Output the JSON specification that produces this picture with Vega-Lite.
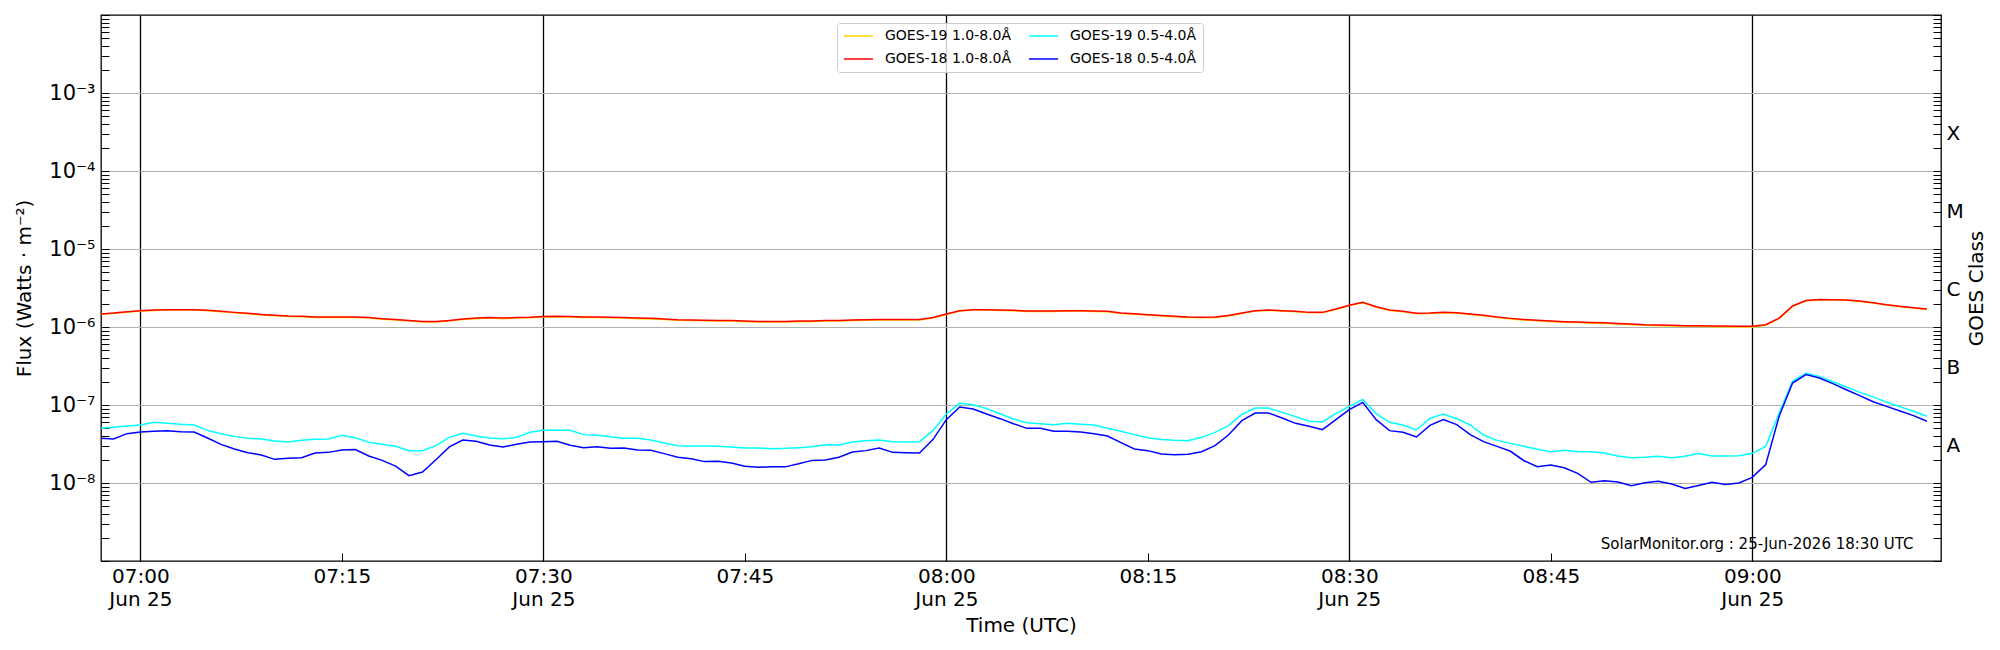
{
  "$schema": "https://vega.github.io/schema/vega-lite/v6.json",
  "width": 1840,
  "height": 546,
  "autosize": {"type": "none"},
  "padding": {"left": 101, "top": 15, "right": 59, "bottom": 89},
  "config": {
    "font": "DejaVu Sans",
    "view": {"stroke": "black", "strokeWidth": 1.3},
    "axis": {
      "labelFont": "DejaVu Sans", "titleFont": "DejaVu Sans",
      "labelColor": "black", "titleColor": "black", "titleFontWeight": "normal",
      "tickColor": "black", "tickWidth": 1, "ticks": true, "domain": false,
      "labelOverlap": false, "labelFlush": false, "labelBound": false
    }
  },
  "datasets": {
    "g19l": [
      {"t":"2026-06-25 06:57","f":1.45e-6},{"t":"2026-06-25 06:58","f":1.49e-6},{"t":"2026-06-25 06:59","f":1.55e-6},
      {"t":"2026-06-25 07:00","f":1.60e-6},{"t":"2026-06-25 07:01","f":1.63e-6},{"t":"2026-06-25 07:02","f":1.65e-6},{"t":"2026-06-25 07:03","f":1.65e-6},{"t":"2026-06-25 07:04","f":1.65e-6},
      {"t":"2026-06-25 07:05","f":1.62e-6},{"t":"2026-06-25 07:06","f":1.57e-6},{"t":"2026-06-25 07:07","f":1.52e-6},{"t":"2026-06-25 07:08","f":1.48e-6},{"t":"2026-06-25 07:09","f":1.43e-6},
      {"t":"2026-06-25 07:10","f":1.39e-6},{"t":"2026-06-25 07:11","f":1.36e-6},{"t":"2026-06-25 07:12","f":1.35e-6},{"t":"2026-06-25 07:13","f":1.32e-6},{"t":"2026-06-25 07:14","f":1.32e-6},
      {"t":"2026-06-25 07:15","f":1.32e-6},{"t":"2026-06-25 07:16","f":1.32e-6},{"t":"2026-06-25 07:17","f":1.30e-6},{"t":"2026-06-25 07:18","f":1.26e-6},{"t":"2026-06-25 07:19","f":1.23e-6},
      {"t":"2026-06-25 07:20","f":1.19e-6},{"t":"2026-06-25 07:21","f":1.16e-6},{"t":"2026-06-25 07:22","f":1.16e-6},{"t":"2026-06-25 07:23","f":1.19e-6},{"t":"2026-06-25 07:24","f":1.25e-6},
      {"t":"2026-06-25 07:25","f":1.28e-6},{"t":"2026-06-25 07:26","f":1.30e-6},{"t":"2026-06-25 07:27","f":1.28e-6},{"t":"2026-06-25 07:28","f":1.30e-6},{"t":"2026-06-25 07:29","f":1.31e-6},
      {"t":"2026-06-25 07:30","f":1.34e-6},{"t":"2026-06-25 07:31","f":1.35e-6},{"t":"2026-06-25 07:32","f":1.34e-6},{"t":"2026-06-25 07:33","f":1.32e-6},{"t":"2026-06-25 07:34","f":1.32e-6},
      {"t":"2026-06-25 07:35","f":1.31e-6},{"t":"2026-06-25 07:36","f":1.30e-6},{"t":"2026-06-25 07:37","f":1.28e-6},{"t":"2026-06-25 07:38","f":1.27e-6},{"t":"2026-06-25 07:39","f":1.25e-6},
      {"t":"2026-06-25 07:40","f":1.22e-6},{"t":"2026-06-25 07:41","f":1.21e-6},{"t":"2026-06-25 07:42","f":1.20e-6},{"t":"2026-06-25 07:43","f":1.19e-6},{"t":"2026-06-25 07:44","f":1.19e-6},
      {"t":"2026-06-25 07:45","f":1.17e-6},{"t":"2026-06-25 07:46","f":1.16e-6},{"t":"2026-06-25 07:47","f":1.16e-6},{"t":"2026-06-25 07:48","f":1.16e-6},{"t":"2026-06-25 07:49","f":1.17e-6},
      {"t":"2026-06-25 07:50","f":1.17e-6},{"t":"2026-06-25 07:51","f":1.19e-6},{"t":"2026-06-25 07:52","f":1.19e-6},{"t":"2026-06-25 07:53","f":1.21e-6},{"t":"2026-06-25 07:54","f":1.22e-6},
      {"t":"2026-06-25 07:55","f":1.23e-6},{"t":"2026-06-25 07:56","f":1.23e-6},{"t":"2026-06-25 07:57","f":1.23e-6},{"t":"2026-06-25 07:58","f":1.23e-6},{"t":"2026-06-25 07:59","f":1.30e-6},
      {"t":"2026-06-25 08:00","f":1.45e-6},{"t":"2026-06-25 08:01","f":1.60e-6},{"t":"2026-06-25 08:02","f":1.65e-6},{"t":"2026-06-25 08:03","f":1.65e-6},{"t":"2026-06-25 08:04","f":1.63e-6},
      {"t":"2026-06-25 08:05","f":1.62e-6},{"t":"2026-06-25 08:06","f":1.58e-6},{"t":"2026-06-25 08:07","f":1.58e-6},{"t":"2026-06-25 08:08","f":1.58e-6},{"t":"2026-06-25 08:09","f":1.60e-6},
      {"t":"2026-06-25 08:10","f":1.60e-6},{"t":"2026-06-25 08:11","f":1.58e-6},{"t":"2026-06-25 08:12","f":1.57e-6},{"t":"2026-06-25 08:13","f":1.49e-6},{"t":"2026-06-25 08:14","f":1.46e-6},
      {"t":"2026-06-25 08:15","f":1.42e-6},{"t":"2026-06-25 08:16","f":1.38e-6},{"t":"2026-06-25 08:17","f":1.35e-6},{"t":"2026-06-25 08:18","f":1.32e-6},{"t":"2026-06-25 08:19","f":1.31e-6},
      {"t":"2026-06-25 08:20","f":1.32e-6},{"t":"2026-06-25 08:21","f":1.38e-6},{"t":"2026-06-25 08:22","f":1.49e-6},{"t":"2026-06-25 08:23","f":1.60e-6},{"t":"2026-06-25 08:24","f":1.63e-6},
      {"t":"2026-06-25 08:25","f":1.60e-6},{"t":"2026-06-25 08:26","f":1.57e-6},{"t":"2026-06-25 08:27","f":1.52e-6},{"t":"2026-06-25 08:28","f":1.52e-6},{"t":"2026-06-25 08:29","f":1.68e-6},
      {"t":"2026-06-25 08:30","f":1.88e-6},{"t":"2026-06-25 08:31","f":2.04e-6},{"t":"2026-06-25 08:32","f":1.80e-6},{"t":"2026-06-25 08:33","f":1.63e-6},{"t":"2026-06-25 08:34","f":1.57e-6},
      {"t":"2026-06-25 08:35","f":1.48e-6},{"t":"2026-06-25 08:36","f":1.49e-6},{"t":"2026-06-25 08:37","f":1.52e-6},{"t":"2026-06-25 08:38","f":1.50e-6},{"t":"2026-06-25 08:39","f":1.45e-6},
      {"t":"2026-06-25 08:40","f":1.39e-6},{"t":"2026-06-25 08:41","f":1.32e-6},{"t":"2026-06-25 08:42","f":1.27e-6},{"t":"2026-06-25 08:43","f":1.23e-6},{"t":"2026-06-25 08:44","f":1.20e-6},
      {"t":"2026-06-25 08:45","f":1.17e-6},{"t":"2026-06-25 08:46","f":1.15e-6},{"t":"2026-06-25 08:47","f":1.14e-6},{"t":"2026-06-25 08:48","f":1.12e-6},{"t":"2026-06-25 08:49","f":1.11e-6},
      {"t":"2026-06-25 08:50","f":1.09e-6},{"t":"2026-06-25 08:51","f":1.07e-6},{"t":"2026-06-25 08:52","f":1.05e-6},{"t":"2026-06-25 08:53","f":1.04e-6},{"t":"2026-06-25 08:54","f":1.03e-6},
      {"t":"2026-06-25 08:55","f":1.02e-6},{"t":"2026-06-25 08:56","f":1.02e-6},{"t":"2026-06-25 08:57","f":1.01e-6},{"t":"2026-06-25 08:58","f":1.01e-6},{"t":"2026-06-25 08:59","f":1.00e-6},
      {"t":"2026-06-25 09:00","f":1.00e-6},{"t":"2026-06-25 09:01","f":1.05e-6},{"t":"2026-06-25 09:02","f":1.28e-6},{"t":"2026-06-25 09:03","f":1.84e-6},{"t":"2026-06-25 09:04","f":2.16e-6},
      {"t":"2026-06-25 09:05","f":2.24e-6},{"t":"2026-06-25 09:06","f":2.22e-6},{"t":"2026-06-25 09:07","f":2.20e-6},{"t":"2026-06-25 09:08","f":2.13e-6},{"t":"2026-06-25 09:09","f":2.03e-6},
      {"t":"2026-06-25 09:10","f":1.91e-6},{"t":"2026-06-25 09:11","f":1.82e-6},{"t":"2026-06-25 09:12","f":1.75e-6},{"t":"2026-06-25 09:13","f":1.68e-6}
    ],
    "g18l": [
      {"t":"2026-06-25 06:57","f":1.47e-6},{"t":"2026-06-25 06:58","f":1.51e-6},{"t":"2026-06-25 06:59","f":1.57e-6},
      {"t":"2026-06-25 07:00","f":1.62e-6},{"t":"2026-06-25 07:01","f":1.65e-6},{"t":"2026-06-25 07:02","f":1.67e-6},{"t":"2026-06-25 07:03","f":1.67e-6},{"t":"2026-06-25 07:04","f":1.67e-6},
      {"t":"2026-06-25 07:05","f":1.64e-6},{"t":"2026-06-25 07:06","f":1.59e-6},{"t":"2026-06-25 07:07","f":1.54e-6},{"t":"2026-06-25 07:08","f":1.50e-6},{"t":"2026-06-25 07:09","f":1.45e-6},
      {"t":"2026-06-25 07:10","f":1.41e-6},{"t":"2026-06-25 07:11","f":1.38e-6},{"t":"2026-06-25 07:12","f":1.37e-6},{"t":"2026-06-25 07:13","f":1.34e-6},{"t":"2026-06-25 07:14","f":1.34e-6},
      {"t":"2026-06-25 07:15","f":1.34e-6},{"t":"2026-06-25 07:16","f":1.34e-6},{"t":"2026-06-25 07:17","f":1.32e-6},{"t":"2026-06-25 07:18","f":1.28e-6},{"t":"2026-06-25 07:19","f":1.25e-6},
      {"t":"2026-06-25 07:20","f":1.21e-6},{"t":"2026-06-25 07:21","f":1.18e-6},{"t":"2026-06-25 07:22","f":1.18e-6},{"t":"2026-06-25 07:23","f":1.21e-6},{"t":"2026-06-25 07:24","f":1.27e-6},
      {"t":"2026-06-25 07:25","f":1.30e-6},{"t":"2026-06-25 07:26","f":1.32e-6},{"t":"2026-06-25 07:27","f":1.30e-6},{"t":"2026-06-25 07:28","f":1.32e-6},{"t":"2026-06-25 07:29","f":1.33e-6},
      {"t":"2026-06-25 07:30","f":1.36e-6},{"t":"2026-06-25 07:31","f":1.37e-6},{"t":"2026-06-25 07:32","f":1.36e-6},{"t":"2026-06-25 07:33","f":1.34e-6},{"t":"2026-06-25 07:34","f":1.34e-6},
      {"t":"2026-06-25 07:35","f":1.33e-6},{"t":"2026-06-25 07:36","f":1.32e-6},{"t":"2026-06-25 07:37","f":1.30e-6},{"t":"2026-06-25 07:38","f":1.29e-6},{"t":"2026-06-25 07:39","f":1.27e-6},
      {"t":"2026-06-25 07:40","f":1.24e-6},{"t":"2026-06-25 07:41","f":1.23e-6},{"t":"2026-06-25 07:42","f":1.22e-6},{"t":"2026-06-25 07:43","f":1.21e-6},{"t":"2026-06-25 07:44","f":1.21e-6},
      {"t":"2026-06-25 07:45","f":1.19e-6},{"t":"2026-06-25 07:46","f":1.18e-6},{"t":"2026-06-25 07:47","f":1.18e-6},{"t":"2026-06-25 07:48","f":1.18e-6},{"t":"2026-06-25 07:49","f":1.19e-6},
      {"t":"2026-06-25 07:50","f":1.19e-6},{"t":"2026-06-25 07:51","f":1.21e-6},{"t":"2026-06-25 07:52","f":1.21e-6},{"t":"2026-06-25 07:53","f":1.23e-6},{"t":"2026-06-25 07:54","f":1.24e-6},
      {"t":"2026-06-25 07:55","f":1.25e-6},{"t":"2026-06-25 07:56","f":1.25e-6},{"t":"2026-06-25 07:57","f":1.25e-6},{"t":"2026-06-25 07:58","f":1.25e-6},{"t":"2026-06-25 07:59","f":1.32e-6},
      {"t":"2026-06-25 08:00","f":1.47e-6},{"t":"2026-06-25 08:01","f":1.62e-6},{"t":"2026-06-25 08:02","f":1.67e-6},{"t":"2026-06-25 08:03","f":1.67e-6},{"t":"2026-06-25 08:04","f":1.65e-6},
      {"t":"2026-06-25 08:05","f":1.64e-6},{"t":"2026-06-25 08:06","f":1.60e-6},{"t":"2026-06-25 08:07","f":1.60e-6},{"t":"2026-06-25 08:08","f":1.60e-6},{"t":"2026-06-25 08:09","f":1.62e-6},
      {"t":"2026-06-25 08:10","f":1.62e-6},{"t":"2026-06-25 08:11","f":1.60e-6},{"t":"2026-06-25 08:12","f":1.59e-6},{"t":"2026-06-25 08:13","f":1.51e-6},{"t":"2026-06-25 08:14","f":1.48e-6},
      {"t":"2026-06-25 08:15","f":1.44e-6},{"t":"2026-06-25 08:16","f":1.40e-6},{"t":"2026-06-25 08:17","f":1.37e-6},{"t":"2026-06-25 08:18","f":1.34e-6},{"t":"2026-06-25 08:19","f":1.33e-6},
      {"t":"2026-06-25 08:20","f":1.34e-6},{"t":"2026-06-25 08:21","f":1.40e-6},{"t":"2026-06-25 08:22","f":1.51e-6},{"t":"2026-06-25 08:23","f":1.62e-6},{"t":"2026-06-25 08:24","f":1.65e-6},
      {"t":"2026-06-25 08:25","f":1.62e-6},{"t":"2026-06-25 08:26","f":1.59e-6},{"t":"2026-06-25 08:27","f":1.54e-6},{"t":"2026-06-25 08:28","f":1.54e-6},{"t":"2026-06-25 08:29","f":1.70e-6},
      {"t":"2026-06-25 08:30","f":1.90e-6},{"t":"2026-06-25 08:31","f":2.07e-6},{"t":"2026-06-25 08:32","f":1.82e-6},{"t":"2026-06-25 08:33","f":1.65e-6},{"t":"2026-06-25 08:34","f":1.59e-6},
      {"t":"2026-06-25 08:35","f":1.50e-6},{"t":"2026-06-25 08:36","f":1.51e-6},{"t":"2026-06-25 08:37","f":1.54e-6},{"t":"2026-06-25 08:38","f":1.52e-6},{"t":"2026-06-25 08:39","f":1.47e-6},
      {"t":"2026-06-25 08:40","f":1.41e-6},{"t":"2026-06-25 08:41","f":1.34e-6},{"t":"2026-06-25 08:42","f":1.29e-6},{"t":"2026-06-25 08:43","f":1.25e-6},{"t":"2026-06-25 08:44","f":1.22e-6},
      {"t":"2026-06-25 08:45","f":1.19e-6},{"t":"2026-06-25 08:46","f":1.17e-6},{"t":"2026-06-25 08:47","f":1.16e-6},{"t":"2026-06-25 08:48","f":1.14e-6},{"t":"2026-06-25 08:49","f":1.13e-6},
      {"t":"2026-06-25 08:50","f":1.11e-6},{"t":"2026-06-25 08:51","f":1.09e-6},{"t":"2026-06-25 08:52","f":1.07e-6},{"t":"2026-06-25 08:53","f":1.06e-6},{"t":"2026-06-25 08:54","f":1.05e-6},
      {"t":"2026-06-25 08:55","f":1.04e-6},{"t":"2026-06-25 08:56","f":1.04e-6},{"t":"2026-06-25 08:57","f":1.03e-6},{"t":"2026-06-25 08:58","f":1.03e-6},{"t":"2026-06-25 08:59","f":1.02e-6},
      {"t":"2026-06-25 09:00","f":1.02e-6},{"t":"2026-06-25 09:01","f":1.07e-6},{"t":"2026-06-25 09:02","f":1.30e-6},{"t":"2026-06-25 09:03","f":1.86e-6},{"t":"2026-06-25 09:04","f":2.18e-6},
      {"t":"2026-06-25 09:05","f":2.26e-6},{"t":"2026-06-25 09:06","f":2.24e-6},{"t":"2026-06-25 09:07","f":2.22e-6},{"t":"2026-06-25 09:08","f":2.15e-6},{"t":"2026-06-25 09:09","f":2.05e-6},
      {"t":"2026-06-25 09:10","f":1.93e-6},{"t":"2026-06-25 09:11","f":1.84e-6},{"t":"2026-06-25 09:12","f":1.77e-6},{"t":"2026-06-25 09:13","f":1.70e-6}
    ],
    "g19s": [
      {"t":"2026-06-25 06:57","f":5.02e-8},{"t":"2026-06-25 06:58","f":5.17e-8},{"t":"2026-06-25 06:59","f":5.38e-8},
      {"t":"2026-06-25 07:00","f":5.54e-8},{"t":"2026-06-25 07:01","f":6.00e-8},{"t":"2026-06-25 07:02","f":5.82e-8},{"t":"2026-06-25 07:03","f":5.65e-8},{"t":"2026-06-25 07:04","f":5.54e-8},
      {"t":"2026-06-25 07:05","f":4.73e-8},{"t":"2026-06-25 07:06","f":4.29e-8},{"t":"2026-06-25 07:07","f":3.96e-8},{"t":"2026-06-25 07:08","f":3.74e-8},{"t":"2026-06-25 07:09","f":3.67e-8},
      {"t":"2026-06-25 07:10","f":3.46e-8},{"t":"2026-06-25 07:11","f":3.36e-8},{"t":"2026-06-25 07:12","f":3.52e-8},{"t":"2026-06-25 07:13","f":3.63e-8},{"t":"2026-06-25 07:14","f":3.67e-8},
      {"t":"2026-06-25 07:15","f":4.08e-8},{"t":"2026-06-25 07:16","f":3.81e-8},{"t":"2026-06-25 07:17","f":3.32e-8},{"t":"2026-06-25 07:18","f":3.13e-8},{"t":"2026-06-25 07:19","f":2.95e-8},
      {"t":"2026-06-25 07:20","f":2.60e-8},{"t":"2026-06-25 07:21","f":2.60e-8},{"t":"2026-06-25 07:22","f":3.01e-8},{"t":"2026-06-25 07:23","f":3.85e-8},{"t":"2026-06-25 07:24","f":4.33e-8},
      {"t":"2026-06-25 07:25","f":4.00e-8},{"t":"2026-06-25 07:26","f":3.78e-8},{"t":"2026-06-25 07:27","f":3.70e-8},{"t":"2026-06-25 07:28","f":3.85e-8},{"t":"2026-06-25 07:29","f":4.46e-8},
      {"t":"2026-06-25 07:30","f":4.73e-8},{"t":"2026-06-25 07:31","f":4.78e-8},{"t":"2026-06-25 07:32","f":4.73e-8},{"t":"2026-06-25 07:33","f":4.17e-8},{"t":"2026-06-25 07:34","f":4.08e-8},
      {"t":"2026-06-25 07:35","f":3.92e-8},{"t":"2026-06-25 07:36","f":3.74e-8},{"t":"2026-06-25 07:37","f":3.74e-8},{"t":"2026-06-25 07:38","f":3.56e-8},{"t":"2026-06-25 07:39","f":3.25e-8},
      {"t":"2026-06-25 07:40","f":3.01e-8},{"t":"2026-06-25 07:41","f":2.98e-8},{"t":"2026-06-25 07:42","f":2.98e-8},{"t":"2026-06-25 07:43","f":2.95e-8},{"t":"2026-06-25 07:44","f":2.90e-8},
      {"t":"2026-06-25 07:45","f":2.81e-8},{"t":"2026-06-25 07:46","f":2.81e-8},{"t":"2026-06-25 07:47","f":2.75e-8},{"t":"2026-06-25 07:48","f":2.78e-8},{"t":"2026-06-25 07:49","f":2.84e-8},
      {"t":"2026-06-25 07:50","f":2.92e-8},{"t":"2026-06-25 07:51","f":3.10e-8},{"t":"2026-06-25 07:52","f":3.07e-8},{"t":"2026-06-25 07:53","f":3.36e-8},{"t":"2026-06-25 07:54","f":3.49e-8},
      {"t":"2026-06-25 07:55","f":3.56e-8},{"t":"2026-06-25 07:56","f":3.39e-8},{"t":"2026-06-25 07:57","f":3.36e-8},{"t":"2026-06-25 07:58","f":3.39e-8},{"t":"2026-06-25 07:59","f":4.69e-8},
      {"t":"2026-06-25 08:00","f":7.67e-8},{"t":"2026-06-25 08:01","f":1.05e-7},{"t":"2026-06-25 08:02","f":1.01e-7},{"t":"2026-06-25 08:03","f":8.98e-8},{"t":"2026-06-25 08:04","f":7.74e-8},
      {"t":"2026-06-25 08:05","f":6.62e-8},{"t":"2026-06-25 08:06","f":5.94e-8},{"t":"2026-06-25 08:07","f":5.76e-8},{"t":"2026-06-25 08:08","f":5.60e-8},{"t":"2026-06-25 08:09","f":5.82e-8},
      {"t":"2026-06-25 08:10","f":5.65e-8},{"t":"2026-06-25 08:11","f":5.54e-8},{"t":"2026-06-25 08:12","f":5.02e-8},{"t":"2026-06-25 08:13","f":4.60e-8},{"t":"2026-06-25 08:14","f":4.17e-8},
      {"t":"2026-06-25 08:15","f":3.81e-8},{"t":"2026-06-25 08:16","f":3.60e-8},{"t":"2026-06-25 08:17","f":3.52e-8},{"t":"2026-06-25 08:18","f":3.49e-8},{"t":"2026-06-25 08:19","f":3.85e-8},
      {"t":"2026-06-25 08:20","f":4.46e-8},{"t":"2026-06-25 08:21","f":5.43e-8},{"t":"2026-06-25 08:22","f":7.59e-8},{"t":"2026-06-25 08:23","f":9.15e-8},{"t":"2026-06-25 08:24","f":9.15e-8},
      {"t":"2026-06-25 08:25","f":8.05e-8},{"t":"2026-06-25 08:26","f":7.09e-8},{"t":"2026-06-25 08:27","f":6.18e-8},{"t":"2026-06-25 08:28","f":6.06e-8},{"t":"2026-06-25 08:29","f":7.74e-8},
      {"t":"2026-06-25 08:30","f":9.61e-8},{"t":"2026-06-25 08:31","f":1.18e-7},{"t":"2026-06-25 08:32","f":7.74e-8},{"t":"2026-06-25 08:33","f":6.00e-8},{"t":"2026-06-25 08:34","f":5.54e-8},
      {"t":"2026-06-25 08:35","f":4.78e-8},{"t":"2026-06-25 08:36","f":6.75e-8},{"t":"2026-06-25 08:37","f":7.67e-8},{"t":"2026-06-25 08:38","f":6.68e-8},{"t":"2026-06-25 08:39","f":5.54e-8},
      {"t":"2026-06-25 08:40","f":4.12e-8},{"t":"2026-06-25 08:41","f":3.52e-8},{"t":"2026-06-25 08:42","f":3.22e-8},{"t":"2026-06-25 08:43","f":2.95e-8},{"t":"2026-06-25 08:44","f":2.70e-8},
      {"t":"2026-06-25 08:45","f":2.52e-8},{"t":"2026-06-25 08:46","f":2.62e-8},{"t":"2026-06-25 08:47","f":2.52e-8},{"t":"2026-06-25 08:48","f":2.52e-8},{"t":"2026-06-25 08:49","f":2.43e-8},
      {"t":"2026-06-25 08:50","f":2.22e-8},{"t":"2026-06-25 08:51","f":2.11e-8},{"t":"2026-06-25 08:52","f":2.14e-8},{"t":"2026-06-25 08:53","f":2.20e-8},{"t":"2026-06-25 08:54","f":2.11e-8},
      {"t":"2026-06-25 08:55","f":2.20e-8},{"t":"2026-06-25 08:56","f":2.38e-8},{"t":"2026-06-25 08:57","f":2.22e-8},{"t":"2026-06-25 08:58","f":2.22e-8},{"t":"2026-06-25 08:59","f":2.24e-8},
      {"t":"2026-06-25 09:00","f":2.40e-8},{"t":"2026-06-25 09:01","f":2.95e-8},{"t":"2026-06-25 09:02","f":7.90e-8},{"t":"2026-06-25 09:03","f":2.01e-7},{"t":"2026-06-25 09:04","f":2.55e-7},
      {"t":"2026-06-25 09:05","f":2.33e-7},{"t":"2026-06-25 09:06","f":1.99e-7},{"t":"2026-06-25 09:07","f":1.70e-7},{"t":"2026-06-25 09:08","f":1.45e-7},{"t":"2026-06-25 09:09","f":1.27e-7},
      {"t":"2026-06-25 09:10","f":1.09e-7},{"t":"2026-06-25 09:11","f":9.52e-8},{"t":"2026-06-25 09:12","f":8.30e-8},{"t":"2026-06-25 09:13","f":7.16e-8}
    ],
    "g18s": [
      {"t":"2026-06-25 06:57","f":3.74e-8},{"t":"2026-06-25 06:58","f":3.67e-8},{"t":"2026-06-25 06:59","f":4.29e-8},
      {"t":"2026-06-25 07:00","f":4.51e-8},{"t":"2026-06-25 07:01","f":4.60e-8},{"t":"2026-06-25 07:02","f":4.69e-8},{"t":"2026-06-25 07:03","f":4.55e-8},{"t":"2026-06-25 07:04","f":4.51e-8},
      {"t":"2026-06-25 07:05","f":3.78e-8},{"t":"2026-06-25 07:06","f":3.13e-8},{"t":"2026-06-25 07:07","f":2.73e-8},{"t":"2026-06-25 07:08","f":2.45e-8},{"t":"2026-06-25 07:09","f":2.29e-8},
      {"t":"2026-06-25 07:10","f":2.01e-8},{"t":"2026-06-25 07:11","f":2.07e-8},{"t":"2026-06-25 07:12","f":2.11e-8},{"t":"2026-06-25 07:13","f":2.43e-8},{"t":"2026-06-25 07:14","f":2.47e-8},
      {"t":"2026-06-25 07:15","f":2.65e-8},{"t":"2026-06-25 07:16","f":2.68e-8},{"t":"2026-06-25 07:17","f":2.22e-8},{"t":"2026-06-25 07:18","f":1.95e-8},{"t":"2026-06-25 07:19","f":1.65e-8},
      {"t":"2026-06-25 07:20","f":1.24e-8},{"t":"2026-06-25 07:21","f":1.38e-8},{"t":"2026-06-25 07:22","f":1.99e-8},{"t":"2026-06-25 07:23","f":2.90e-8},{"t":"2026-06-25 07:24","f":3.56e-8},
      {"t":"2026-06-25 07:25","f":3.42e-8},{"t":"2026-06-25 07:26","f":3.07e-8},{"t":"2026-06-25 07:27","f":2.90e-8},{"t":"2026-06-25 07:28","f":3.13e-8},{"t":"2026-06-25 07:29","f":3.36e-8},
      {"t":"2026-06-25 07:30","f":3.39e-8},{"t":"2026-06-25 07:31","f":3.42e-8},{"t":"2026-06-25 07:32","f":3.04e-8},{"t":"2026-06-25 07:33","f":2.84e-8},{"t":"2026-06-25 07:34","f":2.92e-8},
      {"t":"2026-06-25 07:35","f":2.78e-8},{"t":"2026-06-25 07:36","f":2.81e-8},{"t":"2026-06-25 07:37","f":2.65e-8},{"t":"2026-06-25 07:38","f":2.62e-8},{"t":"2026-06-25 07:39","f":2.38e-8},
      {"t":"2026-06-25 07:40","f":2.14e-8},{"t":"2026-06-25 07:41","f":2.05e-8},{"t":"2026-06-25 07:42","f":1.88e-8},{"t":"2026-06-25 07:43","f":1.90e-8},{"t":"2026-06-25 07:44","f":1.81e-8},
      {"t":"2026-06-25 07:45","f":1.64e-8},{"t":"2026-06-25 07:46","f":1.59e-8},{"t":"2026-06-25 07:47","f":1.61e-8},{"t":"2026-06-25 07:48","f":1.61e-8},{"t":"2026-06-25 07:49","f":1.76e-8},
      {"t":"2026-06-25 07:50","f":1.95e-8},{"t":"2026-06-25 07:51","f":1.97e-8},{"t":"2026-06-25 07:52","f":2.14e-8},{"t":"2026-06-25 07:53","f":2.50e-8},{"t":"2026-06-25 07:54","f":2.60e-8},
      {"t":"2026-06-25 07:55","f":2.81e-8},{"t":"2026-06-25 07:56","f":2.47e-8},{"t":"2026-06-25 07:57","f":2.45e-8},{"t":"2026-06-25 07:58","f":2.43e-8},{"t":"2026-06-25 07:59","f":3.60e-8},
      {"t":"2026-06-25 08:00","f":6.49e-8},{"t":"2026-06-25 08:01","f":9.43e-8},{"t":"2026-06-25 08:02","f":8.89e-8},{"t":"2026-06-25 08:03","f":7.67e-8},{"t":"2026-06-25 08:04","f":6.68e-8},
      {"t":"2026-06-25 08:05","f":5.76e-8},{"t":"2026-06-25 08:06","f":5.02e-8},{"t":"2026-06-25 08:07","f":5.02e-8},{"t":"2026-06-25 08:08","f":4.60e-8},{"t":"2026-06-25 08:09","f":4.60e-8},
      {"t":"2026-06-25 08:10","f":4.51e-8},{"t":"2026-06-25 08:11","f":4.29e-8},{"t":"2026-06-25 08:12","f":4.00e-8},{"t":"2026-06-25 08:13","f":3.29e-8},{"t":"2026-06-25 08:14","f":2.73e-8},
      {"t":"2026-06-25 08:15","f":2.60e-8},{"t":"2026-06-25 08:16","f":2.36e-8},{"t":"2026-06-25 08:17","f":2.31e-8},{"t":"2026-06-25 08:18","f":2.33e-8},{"t":"2026-06-25 08:19","f":2.52e-8},
      {"t":"2026-06-25 08:20","f":3.01e-8},{"t":"2026-06-25 08:21","f":4.12e-8},{"t":"2026-06-25 08:22","f":6.30e-8},{"t":"2026-06-25 08:23","f":7.90e-8},{"t":"2026-06-25 08:24","f":7.90e-8},
      {"t":"2026-06-25 08:25","f":6.81e-8},{"t":"2026-06-25 08:26","f":5.82e-8},{"t":"2026-06-25 08:27","f":5.33e-8},{"t":"2026-06-25 08:28","f":4.83e-8},{"t":"2026-06-25 08:29","f":6.49e-8},
      {"t":"2026-06-25 08:30","f":8.71e-8},{"t":"2026-06-25 08:31","f":1.08e-7},{"t":"2026-06-25 08:32","f":6.49e-8},{"t":"2026-06-25 08:33","f":4.69e-8},{"t":"2026-06-25 08:34","f":4.46e-8},
      {"t":"2026-06-25 08:35","f":3.89e-8},{"t":"2026-06-25 08:36","f":5.49e-8},{"t":"2026-06-25 08:37","f":6.49e-8},{"t":"2026-06-25 08:38","f":5.60e-8},{"t":"2026-06-25 08:39","f":4.17e-8},
      {"t":"2026-06-25 08:40","f":3.39e-8},{"t":"2026-06-25 08:41","f":2.95e-8},{"t":"2026-06-25 08:42","f":2.55e-8},{"t":"2026-06-25 08:43","f":1.93e-8},{"t":"2026-06-25 08:44","f":1.62e-8},
      {"t":"2026-06-25 08:45","f":1.70e-8},{"t":"2026-06-25 08:46","f":1.57e-8},{"t":"2026-06-25 08:47","f":1.33e-8},{"t":"2026-06-25 08:48","f":1.02e-8},{"t":"2026-06-25 08:49","f":1.07e-8},
      {"t":"2026-06-25 08:50","f":1.03e-8},{"t":"2026-06-25 08:51","f":9.2e-9},{"t":"2026-06-25 08:52","f":1.01e-8},{"t":"2026-06-25 08:53","f":1.05e-8},{"t":"2026-06-25 08:54","f":9.7e-9},
      {"t":"2026-06-25 08:55","f":8.5e-9},{"t":"2026-06-25 08:56","f":9.3e-9},{"t":"2026-06-25 08:57","f":1.02e-8},{"t":"2026-06-25 08:58","f":9.6e-9},{"t":"2026-06-25 08:59","f":1.00e-8},
      {"t":"2026-06-25 09:00","f":1.18e-8},{"t":"2026-06-25 09:01","f":1.72e-8},{"t":"2026-06-25 09:02","f":7.16e-8},{"t":"2026-06-25 09:03","f":1.91e-7},{"t":"2026-06-25 09:04","f":2.45e-7},
      {"t":"2026-06-25 09:05","f":2.22e-7},{"t":"2026-06-25 09:06","f":1.88e-7},{"t":"2026-06-25 09:07","f":1.57e-7},{"t":"2026-06-25 09:08","f":1.32e-7},{"t":"2026-06-25 09:09","f":1.10e-7},
      {"t":"2026-06-25 09:10","f":9.61e-8},{"t":"2026-06-25 09:11","f":8.38e-8},{"t":"2026-06-25 09:12","f":7.30e-8},{"t":"2026-06-25 09:13","f":6.18e-8}
    ]
  },
  "encoding": {
    "x": {
      "field": "t", "type": "temporal",
      "scale": {"type": "utc", "domain": [
        {"utc": true, "year": 2026, "month": 6, "date": 25, "hours": 6, "minutes": 57, "seconds": 4},
        {"utc": true, "year": 2026, "month": 6, "date": 25, "hours": 9, "minutes": 14, "seconds": 3}
      ]},
      "axis": {
        "orient": "bottom", "offset": -8,
        "values": [
          {"utc": true, "year": 2026, "month": 6, "date": 25, "hours": 7, "minutes": 0},
          {"utc": true, "year": 2026, "month": 6, "date": 25, "hours": 7, "minutes": 15},
          {"utc": true, "year": 2026, "month": 6, "date": 25, "hours": 7, "minutes": 30},
          {"utc": true, "year": 2026, "month": 6, "date": 25, "hours": 7, "minutes": 45},
          {"utc": true, "year": 2026, "month": 6, "date": 25, "hours": 8, "minutes": 0},
          {"utc": true, "year": 2026, "month": 6, "date": 25, "hours": 8, "minutes": 15},
          {"utc": true, "year": 2026, "month": 6, "date": 25, "hours": 8, "minutes": 30},
          {"utc": true, "year": 2026, "month": 6, "date": 25, "hours": 8, "minutes": 45},
          {"utc": true, "year": 2026, "month": 6, "date": 25, "hours": 9, "minutes": 0}
        ],
        "labelExpr": "utcminutes(datum.value) % 30 == 0 ? [utcFormat(datum.value, '%H:%M'), utcFormat(datum.value, '%b %d')] : utcFormat(datum.value, '%H:%M')",
        "labelFontSize": 20, "labelLineHeight": 23,
        "tickSize": 8, "labelPadding": 5,
        "grid": true, "gridWidth": 1.3,
        "gridColor": {"condition": {"test": "utcminutes(datum.value) % 30 == 0", "value": "black"}, "value": "transparent"},
        "title": "Time (UTC)", "titleFontSize": 20,
        "titleX": 920, "titleY": 78, "titleBaseline": "alphabetic", "titleAlign": "center"
      }
    }
  },
  "layer": [
    {
      "data": {"name": "g19l", "format": {"parse": {"t": "utc:'%Y-%m-%d %H:%M'"}}},
      "mark": {"type": "line", "strokeWidth": 1.5, "clip": true},
      "encoding": {
        "y": {
          "field": "f", "type": "quantitative",
          "scale": {"type": "log", "domain": [1e-9, 0.01]},
          "axis": {
            "orient": "left", "offset": -8,
            "values": [1e-9,2e-9,3e-9,4e-9,5e-9,6e-9,7e-9,8e-9,9e-9,1e-8,2e-8,3e-8,4e-8,5e-8,6e-8,7e-8,8e-8,9e-8,1e-7,2e-7,3e-7,4e-7,5e-7,6e-7,7e-7,8e-7,9e-7,1e-6,2e-6,3e-6,4e-6,5e-6,6e-6,7e-6,8e-6,9e-6,1e-5,2e-5,3e-5,4e-5,5e-5,6e-5,7e-5,8e-5,9e-5,1e-4,2e-4,3e-4,4e-4,5e-4,6e-4,7e-4,8e-4,9e-4,1e-3,2e-3,3e-3,4e-3,5e-3,6e-3,7e-3,8e-3,9e-3,1e-2],
            "labelExpr": "datum.value == 1e-3 ? '10⁻³' : datum.value == 1e-4 ? '10⁻⁴' : datum.value == 1e-5 ? '10⁻⁵' : datum.value == 1e-6 ? '10⁻⁶' : datum.value == 1e-7 ? '10⁻⁷' : datum.value == 1e-8 ? '10⁻⁸' : ''",
            "labelFontSize": 21, "labelBaseline": "middle",
            "tickSize": 8, "labelPadding": 6,
            "grid": true, "gridWidth": 1,
            "gridColor": {"condition": {"test": "indexof([1e-8, 1e-7, 1e-6, 1e-5, 1e-4, 1e-3], datum.value) >= 0", "value": "#b0b0b0"}, "value": "transparent"},
            "title": "Flux (Watts · m⁻²)", "titleFontSize": 20,
            "titleAngle": -90, "titleX": -85, "titleY": 273, "titleBaseline": "middle", "titleAlign": "center"
          }
        },
        "color": {
          "datum": "GOES-19 1.0-8.0Å",
          "scale": {
            "domain": ["GOES-19 1.0-8.0Å", "GOES-18 1.0-8.0Å", "GOES-19 0.5-4.0Å", "GOES-18 0.5-4.0Å"],
            "range": ["#ffd200", "#ff0000", "#00ffff", "#0000ff"]
          },
          "legend": {
            "orient": "none", "legendX": 736, "legendY": 8, "columns": 2, "title": null,
            "symbolType": "stroke", "symbolSize": 841, "symbolStrokeWidth": 1.5,
            "labelFont": "DejaVu Sans", "labelFontSize": 14, "labelColor": "black", "labelOffset": 11,
            "columnPadding": 16, "rowPadding": 9, "padding": 6, "clipHeight": 14,
            "strokeColor": "#cccccc", "fillColor": "rgba(255,255,255,0.8)", "cornerRadius": 3
          }
        }
      }
    },
    {
      "data": {"name": "g18l", "format": {"parse": {"t": "utc:'%Y-%m-%d %H:%M'"}}},
      "mark": {"type": "line", "strokeWidth": 1.5, "clip": true},
      "encoding": {
        "y": {
          "field": "f", "type": "quantitative",
          "scale": {"type": "log", "domain": [1e-9, 0.01]},
          "axis": {
            "orient": "right", "offset": -8,
            "values": [1e-9,2e-9,3e-9,4e-9,5e-9,6e-9,7e-9,8e-9,9e-9,1e-8,2e-8,3e-8,4e-8,5e-8,6e-8,7e-8,8e-8,9e-8,1e-7,2e-7,3e-7,4e-7,5e-7,6e-7,7e-7,8e-7,9e-7,1e-6,2e-6,3e-6,4e-6,5e-6,6e-6,7e-6,8e-6,9e-6,1e-5,2e-5,3e-5,4e-5,5e-5,6e-5,7e-5,8e-5,9e-5,1e-4,2e-4,3e-4,4e-4,5e-4,6e-4,7e-4,8e-4,9e-4,1e-3,2e-3,3e-3,4e-3,5e-3,6e-3,7e-3,8e-3,9e-3,1e-2],
            "labelExpr": "datum.value == 3e-4 ? 'X' : datum.value == 3e-5 ? 'M' : datum.value == 3e-6 ? 'C' : datum.value == 3e-7 ? 'B' : datum.value == 3e-8 ? 'A' : ''",
            "labelFontSize": 20, "labelBaseline": "middle",
            "tickSize": 8, "labelPadding": 5, "grid": false,
            "title": "GOES Class", "titleFontSize": 20,
            "titleAngle": -90, "titleX": 43, "titleY": 273, "titleBaseline": "middle", "titleAlign": "center"
          }
        },
        "color": {"datum": "GOES-18 1.0-8.0Å"}
      }
    },
    {
      "data": {"name": "g19s", "format": {"parse": {"t": "utc:'%Y-%m-%d %H:%M'"}}},
      "mark": {"type": "line", "strokeWidth": 1.5, "clip": true},
      "encoding": {
        "y": {"field": "f", "type": "quantitative", "scale": {"type": "log", "domain": [1e-9, 0.01]}, "axis": null},
        "color": {"datum": "GOES-19 0.5-4.0Å"}
      }
    },
    {
      "data": {"name": "g18s", "format": {"parse": {"t": "utc:'%Y-%m-%d %H:%M'"}}},
      "mark": {"type": "line", "strokeWidth": 1.5, "clip": true},
      "encoding": {
        "y": {"field": "f", "type": "quantitative", "scale": {"type": "log", "domain": [1e-9, 0.01]}, "axis": null},
        "color": {"datum": "GOES-18 0.5-4.0Å"}
      }
    },
    {
      "data": {"values": [{"note": "SolarMonitor.org : 25-Jun-2026 18:30 UTC", "t": "2026-06-25 09:12", "f": 1.43e-9}], "format": {"parse": {"t": "utc:'%Y-%m-%d %H:%M'"}}},
      "mark": {"type": "text", "align": "right", "baseline": "alphabetic", "font": "DejaVu Sans", "fontSize": 15, "color": "black"},
      "encoding": {
        "y": {"field": "f", "type": "quantitative", "scale": {"type": "log", "domain": [1e-9, 0.01]}, "axis": null},
        "text": {"field": "note"}
      }
    }
  ],
  "resolve": {"scale": {"y": "shared"}, "axis": {"y": "independent"}}
}
